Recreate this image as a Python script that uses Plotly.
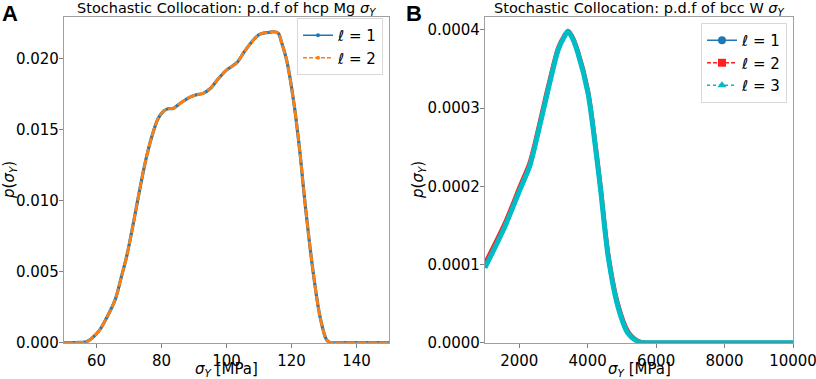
import plotly.graph_objects as go

# ---- Panel A: hcp Mg ----
mg_x = [50, 55, 57, 59, 61, 63, 65.7, 67.5, 69.3, 71, 72.4, 73.4, 75, 77, 79, 80.6, 82, 83.6, 86,
        88.8, 90.5, 92.8, 95, 97.5, 100, 103.1, 105.5, 108.2, 110, 111.3, 113, 114.4, 115.9, 117,
        118.5, 120.6, 122.5, 123.6, 124.7, 126.7, 128.8, 130.8, 132, 134, 150]
mg_l1 = [0, 0.00002, 0.00007, 0.0004, 0.0009, 0.0017, 0.003, 0.0045, 0.0061, 0.0080, 0.0097,
         0.0109, 0.0127, 0.0145, 0.0158, 0.0163, 0.01648, 0.0165, 0.0169, 0.0173, 0.01745,
         0.01756, 0.0179, 0.0186, 0.0192, 0.0197, 0.0205, 0.0213, 0.0217, 0.0218, 0.02185,
         0.0219, 0.0218, 0.0211, 0.0199, 0.0171, 0.0136, 0.0111, 0.0087, 0.0049, 0.0018,
         0.0002, 0.0, 0.0, 0.0]
mg_l2 = list(mg_l1)
mg_ticks = [60, 80, 100, 120, 140]

# ---- Panel B: bcc W ----
w_x = [1000, 1575, 2014, 2300, 2452, 2841, 3133, 3300, 3426, 3550, 3718, 4010, 4250, 4380,
       4600, 4886, 5178, 5471, 5700, 6000, 10000]
w_l1 = [0.000096, 0.000148, 0.000195, 0.000225, 0.00025, 0.000323, 0.000374, 0.00039, 0.000398,
        0.00039, 0.00037, 0.000319, 0.000242, 0.000195, 0.00011, 0.000046, 0.000012, 0.0000013,
        0.0, 0.0, 0.0]
w_l2 = [0.000102, 0.000153, 0.000200, 0.000230, 0.000255, 0.000328, 0.000377, 0.000392, 0.000399,
        0.000392, 0.000373, 0.000323, 0.000247, 0.000200, 0.000115, 0.000050, 0.000015, 0.0000025,
        0.0, 0.0, 0.0]
w_l3 = list(w_l1)
w_ticks = [2000, 4000, 6000, 8000, 10000]

BLUE = "#1f77b4"
ORANGE = "#ff7f0e"
RED = "#ff2020"
CYAN = "#00bcc6"
FONT = "DejaVu Sans"

fig = go.Figure()

# Panel A curves
fig.add_trace(go.Scatter(x=mg_x, y=mg_l1, mode="lines", line=dict(color=BLUE, width=3.2, shape="spline", smoothing=0.9),
                         showlegend=False, xaxis="x", yaxis="y"))
fig.add_trace(go.Scatter(x=mg_x, y=mg_l2, mode="lines", line=dict(color=ORANGE, width=2.8, dash="9px,2px", shape="spline", smoothing=0.9),
                         showlegend=False, xaxis="x", yaxis="y"))
# Panel A legend entries
fig.add_trace(go.Scatter(x=[None], y=[None], mode="lines+markers", name="<i>ℓ</i> = 1",
                         line=dict(color=BLUE, width=1.5),
                         marker=dict(symbol="circle", size=4, color=BLUE, line=dict(width=0)),
                         legend="legend", xaxis="x", yaxis="y"))
fig.add_trace(go.Scatter(x=[None], y=[None], mode="lines+markers", name="<i>ℓ</i> = 2",
                         line=dict(color=ORANGE, width=1.5, dash="4px,2px"),
                         marker=dict(symbol="circle", size=4, color=ORANGE, line=dict(width=0)),
                         legend="legend", xaxis="x", yaxis="y"))

# Panel B curves
fig.add_trace(go.Scatter(x=w_x, y=w_l1, mode="lines", line=dict(color=BLUE, width=4, shape="spline", smoothing=0.8),
                         showlegend=False, xaxis="x2", yaxis="y2"))
fig.add_trace(go.Scatter(x=w_x, y=w_l2, mode="lines", line=dict(color=RED, width=4, shape="spline", smoothing=0.8),
                         showlegend=False, xaxis="x2", yaxis="y2"))
fig.add_trace(go.Scatter(x=w_x, y=w_l3, mode="lines", line=dict(color=CYAN, width=5, shape="spline", smoothing=0.8),
                         showlegend=False, xaxis="x2", yaxis="y2"))
# Panel B legend entries
fig.add_trace(go.Scatter(x=[None], y=[None], mode="lines+markers", name="<i>ℓ</i> = 1",
                         line=dict(color=BLUE, width=1.5), marker=dict(symbol="circle", size=8, color=BLUE),
                         legend="legend2", xaxis="x2", yaxis="y2"))
fig.add_trace(go.Scatter(x=[None], y=[None], mode="lines+markers", name="<i>ℓ</i> = 2",
                         line=dict(color=RED, width=1.5, dash="4px,2px"), marker=dict(symbol="square", size=8, color=RED),
                         legend="legend2", xaxis="x2", yaxis="y2"))
fig.add_trace(go.Scatter(x=[None], y=[None], mode="lines+markers", name="<i>ℓ</i> = 3",
                         line=dict(color=CYAN, width=1.5, dash="dot"), marker=dict(symbol="triangle-up", size=8, color=CYAN),
                         legend="legend2", xaxis="x2", yaxis="y2"))

W, H = 816, 379
def px(xp):
    return xp / W
def py(yp):
    return 1 - yp / H

axis_common = dict(showline=True, mirror=True, linecolor="#a0a0a0", linewidth=1.2, ticks="outside",
                   ticklen=4, tickwidth=1, tickcolor="#808080", showgrid=False, zeroline=False,
                   automargin=False, ticklabeloverflow="allow",
                   tickfont=dict(family=FONT, size=15, color="black"))

fig.update_layout(
    width=W, height=H, margin=dict(l=0, r=0, t=0, b=0, pad=0), autosize=False,
    paper_bgcolor="white", plot_bgcolor="white",
    font=dict(family=FONT, color="black"),
    xaxis=dict(domain=[px(64), px(389)], range=[50, 150], tickvals=mg_ticks, tickformat="d",
               anchor="y", **axis_common),
    yaxis=dict(domain=[py(342.7), py(16.7)], range=[0, 0.02296], tickvals=[0, 0.005, 0.01, 0.015, 0.02],
               tickformat=".3f", ticklabelstandoff=-3, anchor="x", **axis_common),
    xaxis2=dict(domain=[px(485), px(793)], range=[1000, 10000], tickvals=w_ticks, tickformat="d",
                anchor="y2", **axis_common),
    yaxis2=dict(domain=[py(342.7), py(16.7)], range=[0, 0.000417], tickvals=[0, 0.0001, 0.0002, 0.0003, 0.0004],
                tickformat=".4f", ticklabelstandoff=-3, anchor="x2", **axis_common),
    legend=dict(x=px(297), y=py(18), xanchor="left", yanchor="top", bgcolor="rgba(255,255,255,0.8)",
                bordercolor="#d8d8d8", borderwidth=1, font=dict(family=FONT, size=15),
                itemwidth=30, tracegroupgap=0),
    legend2=dict(x=px(701), y=py(23), xanchor="left", yanchor="top", bgcolor="rgba(255,255,255,0.8)",
                 bordercolor="#d8d8d8", borderwidth=1, font=dict(family=FONT, size=15),
                 itemwidth=30, tracegroupgap=0),
)

annotations = [
    dict(text="Stochastic Collocation: p.d.f of hcp Mg <i>σ</i><sub><i>Y</i></sub>", x=(px(64) + px(389)) / 2,
         y=py(9), font=dict(family=FONT, size=14.5)),
    dict(text="Stochastic Collocation: p.d.f of bcc W <i>σ</i><sub><i>Y</i></sub>", x=(px(485) + px(793)) / 2,
         y=py(9), font=dict(family=FONT, size=14.5)),
    dict(text="<b>A</b>", x=px(10), y=py(13), font=dict(family="Liberation Sans", size=22)),
    dict(text="<b>B</b>", x=px(414), y=py(13), font=dict(family="Liberation Sans", size=22)),
    dict(text="<i>σ</i><sub><i>Y</i></sub> [MPa]", x=(px(64) + px(389)) / 2, y=py(369), font=dict(family=FONT, size=15)),
    dict(text="<i>σ</i><sub><i>Y</i></sub> [MPa]", x=(px(485) + px(793)) / 2, y=py(369), font=dict(family=FONT, size=15)),
    dict(text="<i>p</i>(<i>σ</i><sub><i>Y</i></sub>)", x=px(9), y=py(180), textangle=-90, font=dict(family=FONT, size=15)),
    dict(text="<i>p</i>(<i>σ</i><sub><i>Y</i></sub>)", x=px(418), y=py(180), textangle=-90, font=dict(family=FONT, size=15)),
]
for a in annotations:
    a.update(xref="paper", yref="paper", showarrow=False, xanchor="center", yanchor="middle")
fig.update_layout(annotations=annotations)

fig.write_html("out.html", config={"displayModeBar": False},
               post_script="document.body.style.margin='0';")
